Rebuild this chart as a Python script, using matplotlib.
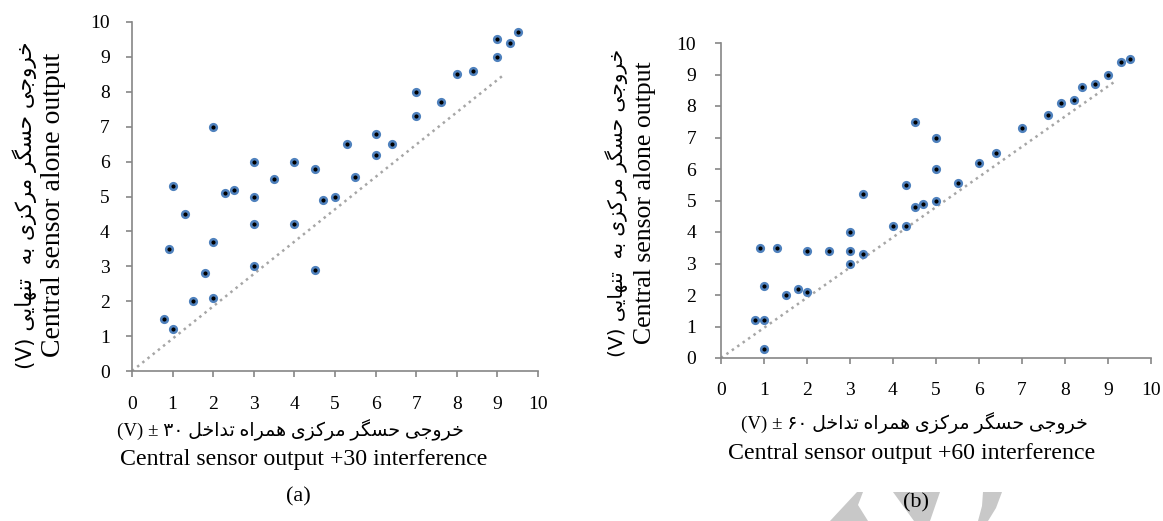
import numpy as np
import matplotlib.pyplot as plt
from matplotlib.patches import Polygon

W, H = 1163, 521

# panel (a): central sensor +30 interference vs alone
x_a = [0.8, 1.0, 0.9, 1.0, 1.3, 1.5, 1.8, 2.0, 2.0, 2.0, 2.3, 2.5, 3.0, 3.0, 3.0, 3.0, 3.5, 4.0, 4.0,
       4.5, 4.5, 4.7, 5.0, 5.3, 5.5, 6.0, 6.0, 6.4, 7.0, 7.0, 7.6, 8.0, 8.4, 9.0, 9.0, 9.3, 9.5]
y_a = [1.5, 1.2, 3.5, 5.3, 4.5, 2.0, 2.8, 2.1, 3.7, 7.0, 5.1, 5.2, 6.0, 5.0, 4.2, 3.0, 5.5, 6.0, 4.2,
       5.8, 2.9, 4.9, 5.0, 6.5, 5.55, 6.8, 6.2, 6.5, 8.0, 7.3, 7.7, 8.5, 8.6, 9.5, 9.0, 9.4, 9.7]
ref_x_a = [0, 9.15]
ref_y_a = [0, 8.48]

# panel (b): central sensor +60 interference vs alone
x_b = [0.8, 1.0, 1.0, 1.0, 0.9, 1.3, 1.5, 1.8, 2.0, 2.0, 2.5, 3.0, 3.0, 3.0, 3.3, 3.3, 4.0, 4.3, 4.3,
       4.5, 4.7, 4.5, 5.0, 5.0, 5.0, 5.5, 6.0, 6.4, 7.0, 7.6, 7.9, 8.2, 8.4, 8.7, 9.0, 9.3, 9.5]
y_b = [1.2, 1.2, 0.3, 2.3, 3.5, 3.5, 2.0, 2.2, 2.1, 3.4, 3.4, 3.4, 3.0, 4.0, 3.3, 5.2, 4.2, 4.2, 5.5,
       4.8, 4.9, 7.5, 5.0, 6.0, 7.0, 5.55, 6.2, 6.5, 7.3, 7.7, 8.1, 8.2, 8.6, 8.7, 9.0, 9.4, 9.5]
ref_x_b = [0, 9.13]
ref_y_b = [0, 8.75]

ticks = list(range(0, 11))

# minimal persian shaping: contextual forms + right-to-left order
FORMS = {
    'ا': ('\uFE8D', '\uFE8E', None, None),
    'ب': ('\uFE8F', '\uFE90', '\uFE91', '\uFE92'),
    'ت': ('\uFE95', '\uFE96', '\uFE97', '\uFE98'),
    'ج': ('\uFE9D', '\uFE9E', '\uFE9F', '\uFEA0'),
    'ح': ('\uFEA1', '\uFEA2', '\uFEA3', '\uFEA4'),
    'خ': ('\uFEA5', '\uFEA6', '\uFEA7', '\uFEA8'),
    'د': ('\uFEA9', '\uFEAA', None, None),
    'ر': ('\uFEAD', '\uFEAE', None, None),
    'ز': ('\uFEAF', '\uFEB0', None, None),
    'س': ('\uFEB1', '\uFEB2', '\uFEB3', '\uFEB4'),
    'ل': ('\uFEDD', '\uFEDE', '\uFEDF', '\uFEE0'),
    'م': ('\uFEE1', '\uFEE2', '\uFEE3', '\uFEE4'),
    'ن': ('\uFEE5', '\uFEE6', '\uFEE7', '\uFEE8'),
    'ه': ('\uFEE9', '\uFEEA', '\uFEEB', '\uFEEC'),
    'و': ('\uFEED', '\uFEEE', None, None),
    'ک': ('\uFB8E', '\uFB8F', '\uFB90', '\uFB91'),
    'گ': ('\uFB92', '\uFB93', '\uFB94', '\uFB95'),
    'ی': ('\uFBFC', '\uFBFD', '\uFBFE', '\uFBFF'),
}
RIGHT_ONLY = set('ادذرزژو')


def fa(text):
    out = []
    for i, ch in enumerate(text):
        if ch not in FORMS:
            out.append(ch)
            continue
        prev = text[i - 1] if i > 0 else ''
        nxt = text[i + 1] if i + 1 < len(text) else ''
        jp = prev in FORMS and prev not in RIGHT_ONLY
        jn = ch not in RIGHT_ONLY and nxt in FORMS
        iso, fin, ini, med = FORMS[ch]
        out.append(med if jp and jn else fin if jp else ini if jn else iso)
    return ''.join(reversed(out))


ylab_fa = '(V) ' + fa('خروجی حسگر مرکزی به  تنهایی')
xlab_fa_a = '(V) ± ۳۰ ' + fa('خروجی حسگر مرکزی همراه تداخل')
xlab_fa_b = '(V) ± ۶۰ ' + fa('خروجی حسگر مرکزی همراه تداخل')
ylab_en = 'Central sensor alone output'
xlab_en_a = 'Central sensor output +30 interference'
xlab_en_b = 'Central sensor output +60 interference'

SERIF = ['Liberation Serif', 'DejaVu Sans']
FA = ['DejaVu Sans']
GRAY = '#868686'

fig = plt.figure(figsize=(W / 100, H / 100), dpi=100)


def box(x0, y0, x1, y1):
    # pixel box -> figure fraction rect
    return [x0 / W, 1 - y1 / H, (x1 - x0) / W, (y1 - y0) / H]


def pt(x, y):
    return x / W, 1 - y / H


panels = [
    dict(rect=(132, 22, 538, 371), x=x_a, y=y_a, rx=ref_x_a, ry=ref_y_a, xpad=14, ypad=12,
         yl=(25, 54, 15.5, 20, 205), xl=(290, 430, 304, 460), tag=(298, 497, '(a)'),
         xfa=xlab_fa_a, xen=xlab_en_a),
    dict(rect=(721, 43, 1151, 358), x=x_b, y=y_b, rx=ref_x_b, ry=ref_y_b, xpad=13, ypad=14,
         yl=(617, 645, 14.5, 18.5, 203), xl=(914, 423, 912, 454), tag=(916, 503, '(b)'),
         xfa=xlab_fa_b, xen=xlab_en_b),
]

for p in panels:
    ax = fig.add_axes(box(*p['rect']))
    ax.plot(p['rx'], p['ry'], linestyle=':', color='#a6a6a6', lw=1.8, zorder=2)
    ax.plot(p['x'], p['y'], 'o', ms=4.8, mfc='black', mec='#4F81BD', mew=1.8, zorder=3, clip_on=False)
    ax.set_xlim(0, 10)
    ax.set_ylim(0, 10)
    ax.set_xticks(ticks)
    ax.set_yticks(ticks)
    for s in ['top', 'right']:
        ax.spines[s].set_visible(False)
    for s in ['left', 'bottom']:
        ax.spines[s].set_color(GRAY)
        ax.spines[s].set_linewidth(1.2)
    ax.tick_params(axis='x', direction='out', length=4, width=1.2, color=GRAY, pad=p['xpad'])
    ax.tick_params(axis='y', direction='out', length=4, width=1.2, color=GRAY, pad=p['ypad'])
    for lab in ax.get_xticklabels() + ax.get_yticklabels():
        lab.set_family(SERIF)
        lab.set_fontsize(14)

    cy = p['yl'][4]
    fig.text(*pt(p['yl'][0], cy), ylab_fa, rotation=90, ha='center', va='center',
             family=FA, fontsize=p['yl'][2])
    fig.text(*pt(p['yl'][1], cy), ylab_en, rotation=90, ha='center', va='center',
             family=SERIF, fontsize=p['yl'][3])
    fig.text(*pt(p['xl'][0], p['xl'][1]), p['xfa'], ha='center', va='center',
             family=SERIF, fontsize=13.6)
    fig.text(*pt(p['xl'][2], p['xl'][3]), p['xen'], ha='center', va='center',
             family=SERIF, fontsize=17.2)
    fig.text(*pt(p['tag'][0], p['tag'][1]), p['tag'][2], ha='center', va='center',
             family=SERIF, fontsize=16)

# faint watermark shapes at the bottom
wm = [
    [(830, 521), (857, 492), (863, 492), (858, 505), (868, 521)],
    [(893, 492), (940, 492), (930, 521), (914, 521)],
    [(983, 492), (1002, 492), (996, 508), (988, 521), (978, 521), (982, 506)],
]
for shp in wm:
    fig.patches.append(Polygon([pt(*v) for v in shp], closed=True, transform=fig.transFigure,
                               facecolor='#c8c8c8', edgecolor='none', zorder=0))

fig.savefig('out.png', dpi=100)
